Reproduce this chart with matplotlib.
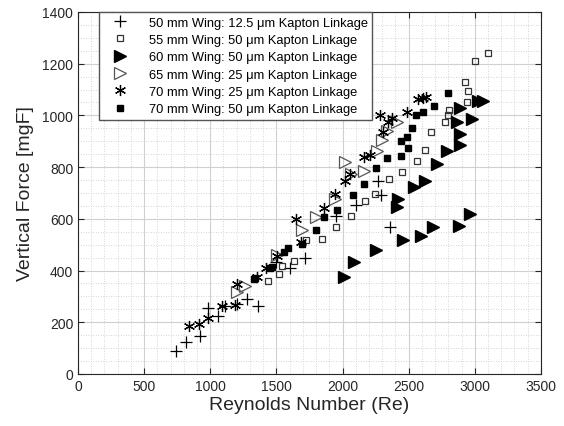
import numpy as np
import matplotlib.pyplot as plt
from matplotlib.ticker import MultipleLocator

plt.rcParams['font.family'] = ['Liberation Sans', 'DejaVu Sans']

# 50 mm wing, 12.5 um kapton
re_50 = [740, 820, 925, 985, 1060, 1110, 1200, 1275, 1360, 1500, 1600, 1720,
         1950, 2100, 2270, 2290, 2360]
f_50 = [90, 122, 146, 255, 225, 262, 270, 290, 262, 435, 410, 450,
        610, 655, 745, 693, 570]

# 55 mm wing, 50 um kapton
re_55 = [1440, 1520, 1542, 1632, 1725, 1848, 1952, 2068, 2170, 2248, 2353, 2450,
         2565, 2623, 2668, 2776, 2795, 2806, 2940, 2950, 2925, 3001, 3101]
f_55 = [358, 385, 416, 437, 519, 522, 569, 610, 668, 696, 754, 783,
        825, 866, 935, 973, 1002, 1022, 1052, 1096, 1130, 1212, 1241]

# 60 mm wing, 50 um kapton
re_60 = [2008, 2090, 2252, 2454, 2590, 2686, 2882, 2963, 2418, 2415, 2540, 2625,
         2715, 2787, 2885, 2890, 2862, 2980, 2887, 3022, 3066]
f_60 = [377, 433, 480, 520, 532, 567, 572, 617, 678, 647, 725, 747,
        812, 864, 885, 928, 973, 986, 1029, 1055, 1057]

# 65 mm wing, 25 um kapton
re_65 = [1199, 1262, 1502, 1690, 1800, 1940, 2018, 2062, 2160, 2258, 2300, 2340, 2410]
f_65 = [316, 341, 462, 555, 606, 677, 819, 775, 784, 864, 905, 940, 976]

# 70 mm wing, 25 um kapton
re_70a = [838, 913, 983, 1090, 1190, 1199, 1350, 1420, 1508, 1650, 1683, 1860, 1940,
          2018, 2056, 2160, 2210, 2283, 2308, 2346, 2371, 2484, 2572, 2610, 2635]
f_70a = [185, 195, 217, 263, 265, 348, 374, 410, 455, 599, 512, 641, 696,
         746, 773, 840, 845, 1003, 935, 973, 990, 1015, 1063, 1068, 1072]

# 70 mm wing, 50 um kapton
re_70b = [1333, 1338, 1451, 1466, 1559, 1590, 1690, 1800, 1860, 1957, 2076, 2165,
          2255, 2340, 2446, 2492, 2446, 2484, 2522, 2558, 2610, 2695, 2799]
f_70b = [367, 372, 410, 415, 470, 488, 503, 556, 606, 634, 692, 735,
         795, 836, 844, 874, 902, 918, 953, 1003, 1015, 1035, 1085]

labels = ['50 mm Wing: 12.5 μm Kapton Linkage',
          '55 mm Wing: 50 μm Kapton Linkage',
          '60 mm Wing: 50 μm Kapton Linkage',
          '65 mm Wing: 25 μm Kapton Linkage',
          '70 mm Wing: 25 μm Kapton Linkage',
          '70 mm Wing: 50 μm Kapton Linkage']

fig = plt.figure(figsize=(5.64, 4.27), dpi=100)
ax = fig.add_axes([0.1383, 0.1218, 0.8207, 0.8478])

ax.plot(re_50, f_50, ls='none', marker='+', ms=8, mew=0.9, color='black', label=labels[0])
ax.plot(re_55, f_55, ls='none', marker='s', ms=5, mew=0.9, mfc='none', mec='#333333', label=labels[1])
ax.plot(re_60, f_60, ls='none', marker='>', ms=8, color='black', label=labels[2])
ax.plot(re_65, f_65, ls='none', marker='>', ms=8, mew=0.9, mfc='none', mec='#555555', label=labels[3])
ax.plot(re_70a, f_70a, ls='none', marker=(6, 2, 0), ms=8, mew=0.9, color='black', label=labels[4])
ax.plot(re_70b, f_70b, ls='none', marker='s', ms=5, color='black', label=labels[5])

ax.set_xlim(0, 3500)
ax.set_ylim(0, 1400)
ax.xaxis.set_major_locator(MultipleLocator(500))
ax.xaxis.set_minor_locator(MultipleLocator(100))
ax.yaxis.set_major_locator(MultipleLocator(200))
ax.yaxis.set_minor_locator(MultipleLocator(50))

ax.grid(True, which='major', color='#d0d0d0', lw=0.8)
ax.grid(True, which='minor', color='#c8c8c8', lw=0.6, ls=(0, (1, 2)))
ax.set_axisbelow(True)

ax.tick_params(which='both', direction='in', top=True, right=True, colors='#262626',
               labelsize=10)
ax.tick_params(which='major', length=4)
ax.tick_params(which='minor', length=0)
for s in ax.spines.values():
    s.set_color('#262626')
    s.set_linewidth(0.8)

ax.set_xlabel('Reynolds Number (Re)', fontsize=14, color='#262626', labelpad=2)
ax.set_ylabel('Vertical Force [mgF]', fontsize=14, color='#262626', labelpad=6)

leg = ax.legend(loc='upper left', bbox_to_anchor=(0.045, 1.0), fontsize=9.3,
                fancybox=False, framealpha=1, edgecolor='#555555',
                borderpad=0.35, labelspacing=0.41, handletextpad=0.9,
                handlelength=2.6, borderaxespad=0)
leg.get_frame().set_linewidth(1.0)

plt.savefig('out.png', dpi=100)
